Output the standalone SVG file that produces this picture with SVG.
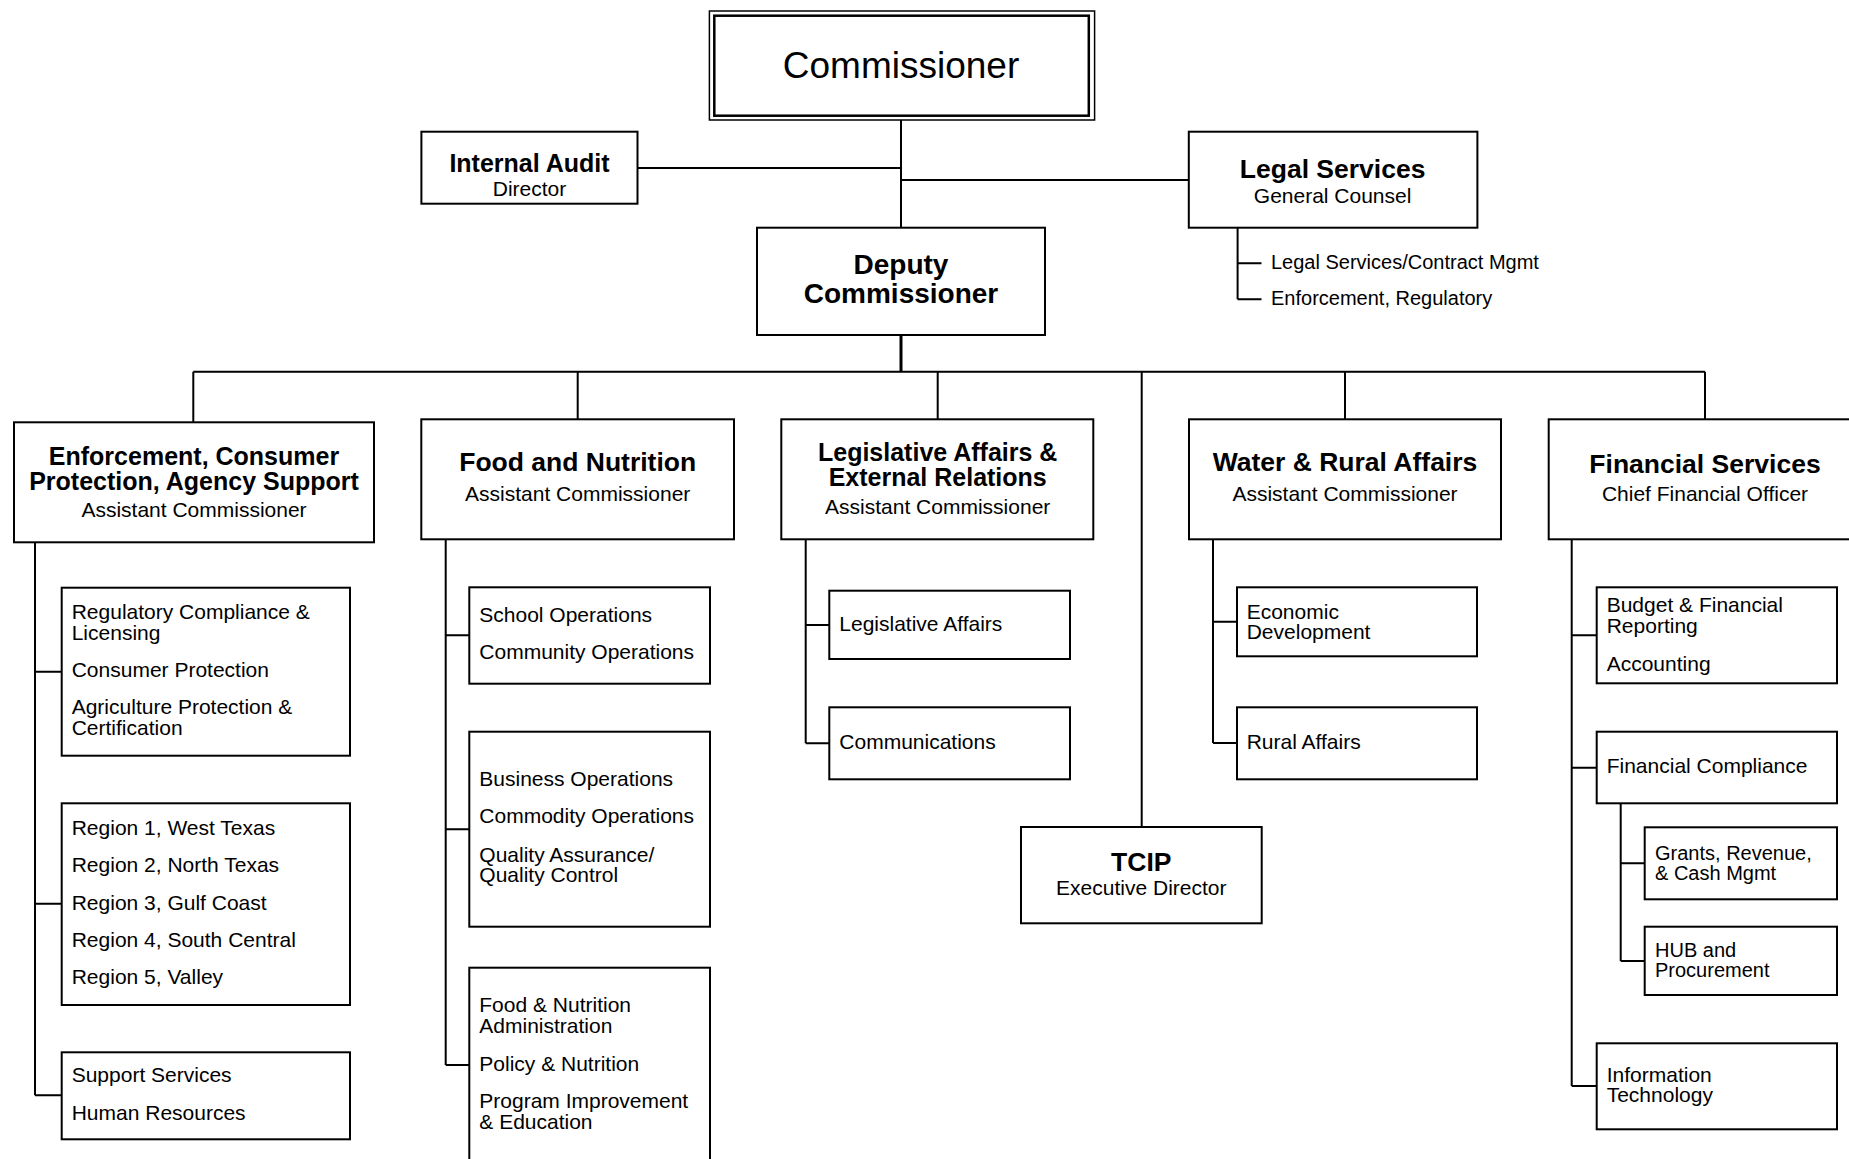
<svg xmlns="http://www.w3.org/2000/svg" width="1849" height="1159" viewBox="0 0 1849 1159">
<style>
.box{fill:#fff;stroke:#000;stroke-width:2}
.ln{stroke:#000;stroke-width:2;fill:none}
text{font-family:"Liberation Sans",Arial,sans-serif;fill:#000}
.b{font-weight:bold;text-anchor:middle;font-size:26.5px}
.b2{font-weight:bold;text-anchor:middle;font-size:25px}
.s{text-anchor:middle;font-size:21px}
.i{font-size:21px}
.i2{font-size:20px}
</style>
<rect width="1849" height="1159" fill="#fff"/>
<g id="connectors">
<path class="ln" d="M901 120V228M637.5 168H901M901 180H1189"/>
<path class="ln" d="M901 335V372" style="stroke-width:3"/>
<path class="ln" d="M193.3 371.7H1705M193.3 371.7V422.3M577.7 371.7V419.3M937.7 371.7V419.3M1141.7 371.7V827M1345 371.7V419.3M1705 371.7V419.3"/>
<path class="ln" d="M1237.6 227.7V299.3M1237.6 263.3H1261.5M1237.6 299.3H1261.5"/>
<path class="ln" d="M35 542.3V1095.3M35 671.7H61.7M35 903.7H61.7M35 1095.3H61.7"/>
<path class="ln" d="M445.7 539.3V1065M445.7 635.3H469.3M445.7 829.3H469.3M445.7 1065H469.3"/>
<path class="ln" d="M805.7 539.3V743.3M805.7 625H829.3M805.7 743.3H829.3"/>
<path class="ln" d="M1213 539.3V743M1213 621.7H1237M1213 743H1237"/>
<path class="ln" d="M1571.7 539.3V1086M1571.7 635.3H1596.7M1571.7 767.7H1596.7M1571.7 1086H1596.7"/>
<path class="ln" d="M1620.7 803.3V961M1620.7 863.3H1644.7M1620.7 961H1644.7"/>
</g>
<g id="commissioner">
<rect x="709.4" y="11" width="385.2" height="109" fill="#fff" stroke="#000" stroke-width="1.5"/>
<rect x="714.3" y="15.7" width="374.5" height="100" fill="none" stroke="#000" stroke-width="2.5"/>
<text x="901" y="78" text-anchor="middle" font-size="37">Commissioner</text>
</g>
<g id="internal-audit">
<rect class="box" x="421.4" y="131.7" width="216.1" height="72"/>
<text class="b2" x="529.5" y="172">Internal Audit</text>
<text class="s" x="529.5" y="196">Director</text>
</g>
<g id="legal-services">
<rect class="box" x="1188.8" y="131.7" width="288.6" height="96"/>
<text class="b" x="1332.6" y="178">Legal Services</text>
<text class="s" x="1332.6" y="203.3">General Counsel</text>
<text class="i2" x="1271" y="269.3">Legal Services/Contract Mgmt</text>
<text class="i2" x="1271" y="305.3">Enforcement, Regulatory</text>
</g>
<g id="deputy">
<rect class="box" x="757" y="227.7" width="288" height="107.3"/>
<text x="901" y="274" text-anchor="middle" font-weight="bold" font-size="28">Deputy</text>
<text x="901" y="302.5" text-anchor="middle" font-weight="bold" font-size="28">Commissioner</text>
</g>
<g id="enforcement">
<rect class="box" x="14" y="422.3" width="360" height="120"/>
<text class="b2" x="194" y="464.5">Enforcement, Consumer</text>
<text class="b2" x="194" y="490">Protection, Agency Support</text>
<text class="s" x="194" y="516.7">Assistant Commissioner</text>
</g>
<g id="enf-sub1">
<rect class="box" x="61.7" y="587.7" width="288.3" height="168"/>
<text class="i" x="71.7" y="619">Regulatory Compliance &amp;</text>
<text class="i" x="71.7" y="640">Licensing</text>
<text class="i" x="71.7" y="676.7">Consumer Protection</text>
<text class="i" x="71.7" y="714">Agriculture Protection &amp;</text>
<text class="i" x="71.7" y="735">Certification</text>
</g>
<g id="enf-regions">
<rect class="box" x="61.7" y="803.3" width="288.3" height="201.7"/>
<text class="i" x="71.7" y="835">Region 1, West Texas</text>
<text class="i" x="71.7" y="872.3">Region 2, North Texas</text>
<text class="i" x="71.7" y="910">Region 3, Gulf Coast</text>
<text class="i" x="71.7" y="946.7">Region 4, South Central</text>
<text class="i" x="71.7" y="984">Region 5, Valley</text>
</g>
<g id="enf-support">
<rect class="box" x="61.7" y="1052.3" width="288.3" height="87"/>
<text class="i" x="71.7" y="1082.3">Support Services</text>
<text class="i" x="71.7" y="1120">Human Resources</text>
</g>
<g id="food">
<rect class="box" x="421.3" y="419.3" width="312.7" height="120"/>
<text class="b" x="577.7" y="471.3">Food and Nutrition</text>
<text class="s" x="577.7" y="501">Assistant Commissioner</text>
</g>
<g id="food-sub1">
<rect class="box" x="469.3" y="587.3" width="240.7" height="96.4"/>
<text class="i" x="479.3" y="621.7">School Operations</text>
<text class="i" x="479.3" y="659">Community Operations</text>
</g>
<g id="food-sub2">
<rect class="box" x="469.3" y="731.7" width="240.7" height="195"/>
<text class="i" x="479.3" y="785.7">Business Operations</text>
<text class="i" x="479.3" y="823">Commodity Operations</text>
<text class="i" x="479.3" y="861.7">Quality Assurance/</text>
<text class="i" x="479.3" y="882.3">Quality Control</text>
</g>
<g id="food-sub3">
<rect class="box" x="469.3" y="967.7" width="240.7" height="210"/>
<text class="i" x="479.3" y="1012.3">Food &amp; Nutrition</text>
<text class="i" x="479.3" y="1033.3">Administration</text>
<text class="i" x="479.3" y="1070.7">Policy &amp; Nutrition</text>
<text class="i" x="479.3" y="1108.3">Program Improvement</text>
<text class="i" x="479.3" y="1129">&amp; Education</text>
</g>
<g id="legislative">
<rect class="box" x="781.3" y="419.3" width="312" height="120"/>
<text class="b2" x="937.7" y="461.3">Legislative Affairs &amp;</text>
<text class="b2" x="937.7" y="485.7">External Relations</text>
<text class="s" x="937.7" y="514">Assistant Commissioner</text>
</g>
<g id="leg-affairs">
<rect class="box" x="829.3" y="590.7" width="240.7" height="68.3"/>
<text class="i" x="839.3" y="631">Legislative Affairs</text>
</g>
<g id="communications">
<rect class="box" x="829.3" y="707.3" width="240.7" height="72"/>
<text class="i" x="839.3" y="749.3">Communications</text>
</g>
<g id="tcip">
<rect class="box" x="1021" y="827" width="240.7" height="96.3"/>
<text class="b" x="1141.3" y="871">TCIP</text>
<text class="s" x="1141.3" y="895">Executive Director</text>
</g>
<g id="water">
<rect class="box" x="1189" y="419.3" width="312" height="120"/>
<text class="b" x="1345" y="471.3">Water &amp; Rural Affairs</text>
<text class="s" x="1345" y="501">Assistant Commissioner</text>
</g>
<g id="economic">
<rect class="box" x="1237" y="587.3" width="240" height="69"/>
<text class="i" x="1246.7" y="619">Economic</text>
<text class="i" x="1246.7" y="639">Development</text>
</g>
<g id="rural">
<rect class="box" x="1237" y="707.3" width="240" height="72"/>
<text class="i" x="1246.7" y="749.3">Rural Affairs</text>
</g>
<g id="financial">
<rect class="box" x="1548.7" y="419.3" width="312.6" height="120"/>
<text class="b" x="1705" y="472.5">Financial Services</text>
<text class="s" x="1705" y="501">Chief Financial Officer</text>
</g>
<g id="budget">
<rect class="box" x="1596.7" y="587.3" width="240.3" height="96"/>
<text class="i" x="1606.7" y="611.7">Budget &amp; Financial</text>
<text class="i" x="1606.7" y="633.3">Reporting</text>
<text class="i" x="1606.7" y="671">Accounting</text>
</g>
<g id="fin-compliance">
<rect class="box" x="1596.7" y="731.7" width="240.3" height="71.6"/>
<text class="i" x="1606.7" y="773.3">Financial Compliance</text>
</g>
<g id="grants">
<rect class="box" x="1644.7" y="827.3" width="192.3" height="72"/>
<text class="i2" x="1655" y="859.5">Grants, Revenue,</text>
<text class="i2" x="1655" y="880">&amp; Cash Mgmt</text>
</g>
<g id="hub">
<rect class="box" x="1644.7" y="926.7" width="192.3" height="68.3"/>
<text class="i2" x="1655" y="956.7">HUB and</text>
<text class="i2" x="1655" y="977.3">Procurement</text>
</g>
<g id="it">
<rect class="box" x="1596.7" y="1043.3" width="240.3" height="86"/>
<text class="i" x="1606.7" y="1081.7">Information</text>
<text class="i" x="1606.7" y="1102.3">Technology</text>
</g>
</svg>
